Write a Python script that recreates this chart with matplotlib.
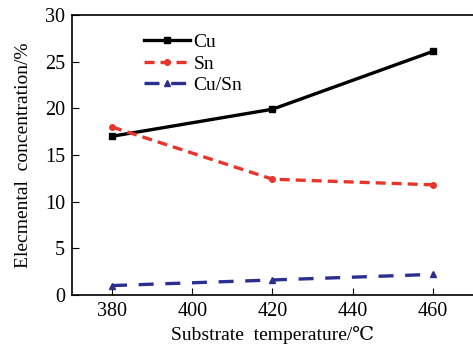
import matplotlib
matplotlib.use("Agg")
import matplotlib.pyplot as plt

temps = [380, 420, 460]
cu = [17.0, 19.9, 26.1]
sn = [18.0, 12.4, 11.8]
cu_sn = [1.0, 1.6, 2.2]
y_ticks = [0, 5, 10, 15, 20, 25, 30]
x_ticks = [380, 400, 420, 440, 460]

plt.rcParams['font.family'] = ['Liberation Serif', 'DejaVu Serif']

fig = plt.figure(figsize=(4.73, 3.49), dpi=100)
ax = fig.add_axes([0.152, 0.155, 0.848, 0.802])

ax.plot(temps, cu, color='black', lw=2.4, marker='s', ms=4, label='Cu')
ax.plot(temps, sn, color='#e8352b', lw=2.4, ls=(0, (3, 1.8)), marker='o', ms=4,
        label='Sn')
ax.plot(temps, cu_sn, color='#2b2f8f', lw=2.4, ls=(0, (4.5, 3.5)), marker='^', ms=4,
        label='Cu/Sn')

ax.set_xlim(370, 470)
ax.set_ylim(0, 30)
ax.set_xticks(x_ticks)
ax.set_yticks(y_ticks)
ax.tick_params(direction='in', length=5, width=0.8, labelsize=14.5, pad=5)
ax.spines['right'].set_visible(False)
for s in ['left', 'bottom', 'top']:
    ax.spines[s].set_linewidth(1.2)

ax.set_xlabel('Substrate  temperature/\u2103', fontsize=14, labelpad=4)
ax.set_ylabel('Elecmental  concentration/%', fontsize=14, labelpad=9)

ax.legend(loc='upper left', bbox_to_anchor=(0.15, 0.975), frameon=False,
          fontsize=14, handlelength=2.4, handletextpad=0.15, labelspacing=0.2,
          borderaxespad=0.2)

fig.savefig('out.png', dpi=100)
